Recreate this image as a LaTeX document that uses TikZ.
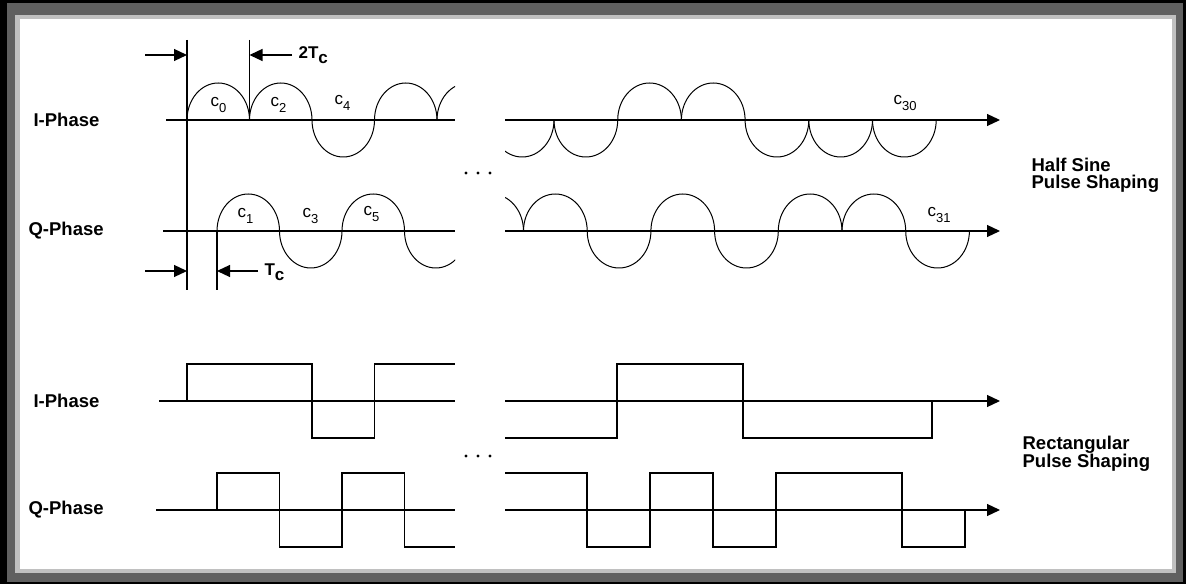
\documentclass[tikz,border=0pt]{standalone}
\usepackage{fontspec}
\setmainfont{Liberation Sans}
\usetikzlibrary{arrows.meta}

\definecolor{framedark}{HTML}{606060}
\definecolor{framelight}{HTML}{C0C0C0}
\newcommand{\chiplbl}[1]{c\raisebox{-6pt}{\fontsize{13}{13}\selectfont #1}}

\begin{document}
\begin{tikzpicture}[
  x=1pt, y=1pt,
  line width=1.2pt,
  >={Triangle[length=13pt, width=12pt]},
  phase/.style={font=\fontsize{18.5}{17}\selectfont\bfseries, anchor=west, inner sep=0pt},
  caption/.style={font=\fontsize{18.5}{17}\selectfont\bfseries, anchor=north west, align=left, inner sep=0pt},
  chiplabel/.style={font=\fontsize{17}{17}\selectfont, anchor=base west, inner sep=0pt},
  dimlabel/.style={font=\fontsize{17}{17}\selectfont\bfseries, anchor=base west, inner sep=0pt},
  hsine/.style={line width=1pt}
]

% Window frame
\fill[black] (0,0) rectangle (1186,584);
\fill[framedark] (7,2) rectangle (1183,581);
\fill[framelight] (15,11) rectangle (1176,569);
\fill[white] (20,15) rectangle (1172,565);
\useasboundingbox (0,0) rectangle (1186,584);

% Phase labels and captions
\node[phase] (iphs) at (33,464) {I-Phase};
\node[phase] (qphs) at (28,353) {Q-Phase};
\node[phase] (iphr) at (33,183) {I-Phase};
\node[phase] (qphr) at (28,74) {Q-Phase};
\node[caption] (hscap) at (1031,427) {Half Sine\\Pulse Shaping};
\node[caption] (rccap) at (1022,149) {Rectangular\\Pulse Shaping};

% Half sine: axes
\draw (166,464) -- (455,464);
\draw[->] (505,464) -- (1000,464);
\draw (163,353) -- (455,353);
\draw[->] (505,353) -- (1000,353);

% Half sine: I-phase chips
\begin{scope}
  \clip (150,400) rectangle (455,530);
  \foreach \ea [count=\k from 0] in {0,0,360,0,0}
    \draw[hsine] (187+62.5*\k,464) arc[start angle=180, end angle=\ea, x radius=31.25pt, y radius=37pt];
\end{scope}
\begin{scope}
  \clip (505,400) rectangle (1000,530);
  \foreach \ea [count=\k from 0] in {360,360,0,0,360,360,360}
    \draw[hsine] (490.3+63.7*\k,464) arc[start angle=180, end angle=\ea, x radius=31.85pt, y radius=37pt];
\end{scope}

% Half sine: Q-phase chips
\begin{scope}
  \clip (150,300) rectangle (455,400);
  \foreach \ea [count=\k from 0] in {0,360,0,360}
    \draw[hsine] (217+62.5*\k,353) arc[start angle=180, end angle=\ea, x radius=31.25pt, y radius=37pt];
\end{scope}
\begin{scope}
  \clip (505,300) rectangle (1000,400);
  \foreach \ea [count=\k from 0] in {0,0,360,0,360,0,0,360}
    \draw[hsine] (459.8+63.7*\k,353) arc[start angle=180, end angle=\ea, x radius=31.85pt, y radius=37pt];
\end{scope}

% Chip labels
\node[chiplabel] (c0) at (210,477) {\chiplbl{0}};
\node[chiplabel] (c2) at (270,477) {\chiplbl{2}};
\node[chiplabel] (c4) at (334,479) {\chiplbl{4}};
\node[chiplabel] (c1) at (237,366) {\chiplbl{1}};
\node[chiplabel] (c3) at (302,366) {\chiplbl{3}};
\node[chiplabel] (c5) at (363,368) {\chiplbl{5}};
\node[chiplabel] (c30) at (893,479) {\chiplbl{30}};
\node[chiplabel] (c31) at (927,367) {\chiplbl{31}};

% Timing marks
\coordinate (ttop) at (187,544);
\coordinate (tbot) at (187,294);
\coordinate (ttwo) at (249.5,544);
\coordinate (tone) at (217,294);
\draw (ttop) -- (tbot);
\draw (ttwo) -- (249.5,464);
\draw (tone) -- (217,353);
\coordinate (a0) at (145,529);
\coordinate (a1) at (187,529);
\coordinate (a2) at (292,529);
\coordinate (a3) at (249.5,529);
\coordinate (b0) at (145,313);
\coordinate (b1) at (187,313);
\coordinate (b2) at (258,313);
\coordinate (b3) at (217,313);
\draw[->] (a0) -- (a1);
\draw[->] (a2) -- (a3);
\draw[->] (b0) -- (b1);
\draw[->] (b2) -- (b3);
\node[dimlabel] (twotc) at (298,525) {2T\raisebox{-5pt}{c}};
\node[dimlabel] (onetc) at (264,308) {T\raisebox{-5pt}{c}};

% Rectangular: axes
\draw (159,183) -- (455,183);
\draw[->] (505,183) -- (1000,183);
\draw (156,74) -- (455,74);
\draw[->] (505,74) -- (1000,74);

% Rectangular: I-phase
\draw (159,183) -- (187,183) -- (187,220) -- (312,220) -- (312,146) -- (374.5,146) -- (374.5,220) -- (455,220);
\draw (505,146) -- (617,146) -- (617,220) -- (743,220) -- (743,146) -- (932,146) -- (932,183);

% Rectangular: Q-phase
\draw (156,74) -- (217,74) -- (217,111) -- (279.5,111) -- (279.5,37) -- (342,37) -- (342,111) -- (404.5,111) -- (404.5,37) -- (455,37);
\draw (505,111) -- (587,111) -- (587,37) -- (650,37) -- (650,111) -- (713,111) -- (713,37) -- (776,37) -- (776,111) -- (902,111) -- (902,37) -- (965,37) -- (965,74);

% Gap dots
\foreach \d in {466,478,490} {
  \fill (\d,411) circle[radius=1.6pt];
  \fill (\d,128) circle[radius=1.6pt];
}

\end{tikzpicture}
\end{document}
